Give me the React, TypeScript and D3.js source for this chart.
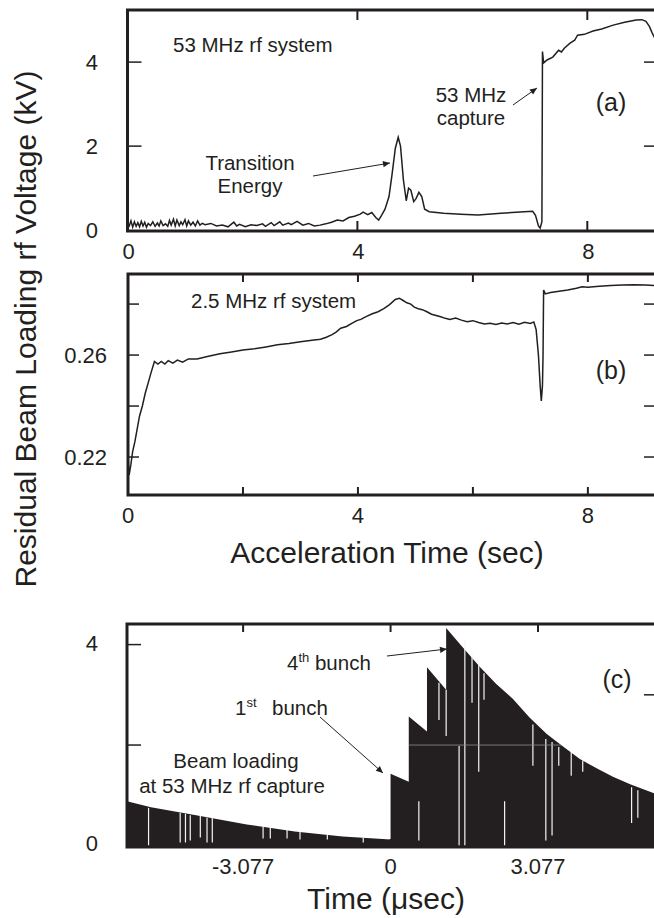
import React, { useEffect, useRef } from "react";
import * as d3 from "d3";

// panel (a) - 53 MHz rf system, voltage in kV vs acceleration time (sec)
const timeA = [0.0, 0.03, 0.06, 0.09, 0.12, 0.15, 0.18, 0.21, 0.24, 0.27, 0.3, 0.33, 0.36, 0.4, 0.44, 0.48, 0.52, 0.55, 0.58, 0.62, 0.66, 0.7, 0.73, 0.76, 0.8, 0.83, 0.86, 0.9, 0.93, 0.96, 1.0, 1.03, 1.06, 1.1, 1.14, 1.18, 1.22, 1.26, 1.3, 1.35, 1.45, 1.55, 1.65, 1.75, 1.85, 1.9, 1.95, 2.05, 2.15, 2.25, 2.35, 2.4, 2.5, 2.55, 2.65, 2.7, 2.8, 2.85, 2.95, 3.05, 3.15, 3.25, 3.35, 3.45, 3.55, 3.65, 3.75, 3.85, 3.95, 4.05, 4.1, 4.18, 4.25, 4.32, 4.37, 4.42, 4.48, 4.55, 4.6, 4.66, 4.71, 4.75, 4.8, 4.85, 4.89, 4.93, 4.98, 5.02, 5.07, 5.12, 5.17, 5.25, 5.5, 5.8, 6.1, 6.5, 6.9, 7.05, 7.1, 7.15, 7.18, 7.21, 7.22, 7.24, 7.3, 7.4, 7.5, 7.55, 7.6, 7.7, 7.78, 7.83, 7.95, 8.1, 8.25, 8.45, 8.65, 8.85, 8.95, 9.02, 9.08, 9.13, 9.2];
const voltA = [0.15, 0.1, 0.22, 0.07, 0.2, 0.09, 0.18, 0.08, 0.21, 0.1, 0.19, 0.07, 0.16, 0.11, 0.2, 0.09, 0.17, 0.1, 0.22, 0.11, 0.15, 0.09, 0.23, 0.12, 0.26, 0.1, 0.24, 0.11, 0.2, 0.13, 0.25, 0.1, 0.22, 0.12, 0.19, 0.1, 0.22, 0.12, 0.16, 0.13, 0.16, 0.1, 0.12, 0.08, 0.19, 0.1, 0.14, 0.08, 0.13, 0.11, 0.15, 0.09, 0.18, 0.11, 0.2, 0.12, 0.17, 0.13, 0.21, 0.12, 0.16, 0.1, 0.12, 0.15, 0.19, 0.24, 0.22, 0.3, 0.33, 0.38, 0.43, 0.37, 0.42, 0.3, 0.24, 0.35, 0.5, 0.8, 1.3, 1.95, 2.21, 2.0, 1.2, 0.7, 1.0, 0.95, 0.68, 0.75, 0.9, 0.8, 0.5, 0.44, 0.4, 0.38, 0.36, 0.4, 0.44, 0.45, 0.35, 0.1, 0.05, 0.2, 4.25, 3.98, 4.05, 4.12, 4.28, 4.24, 4.33, 4.45, 4.52, 4.64, 4.66, 4.74, 4.79, 4.88, 4.95, 5.0, 5.01, 4.97, 4.85, 4.69, 4.5];

// panel (b) - 2.5 MHz rf system
const timeB = [0.0, 0.02, 0.05, 0.08, 0.12, 0.16, 0.2, 0.25, 0.3, 0.35, 0.4, 0.46, 0.52, 0.58, 0.64, 0.7, 0.78, 0.86, 0.95, 1.05, 1.2, 1.4, 1.6, 1.8, 2.0, 2.2, 2.4, 2.6, 2.8, 3.0, 3.2, 3.35, 3.45, 3.55, 3.62, 3.7, 3.8, 3.9, 3.98, 4.05, 4.15, 4.25, 4.35, 4.45, 4.55, 4.65, 4.72, 4.78, 4.85, 4.92, 4.98, 5.05, 5.12, 5.2, 5.28, 5.36, 5.44, 5.52, 5.6, 5.7, 5.8, 5.9, 6.0, 6.1, 6.2, 6.3, 6.4, 6.5, 6.6, 6.7, 6.8, 6.9, 7.0, 7.06, 7.1, 7.14, 7.17, 7.19, 7.21, 7.22, 7.23, 7.26, 7.35, 7.5, 7.65, 7.8, 7.9, 8.0, 8.2, 8.4, 8.6, 8.8, 9.0, 9.2];
const voltB = [0.22, 0.213, 0.217, 0.222, 0.226, 0.231, 0.236, 0.24, 0.245, 0.249, 0.253, 0.2575, 0.2565, 0.2575, 0.2565, 0.2578, 0.2568, 0.258, 0.2572, 0.2585, 0.2585, 0.2595, 0.2605, 0.2612, 0.262, 0.2625, 0.2632, 0.264, 0.2645, 0.2652, 0.2658, 0.2662, 0.267, 0.268, 0.269, 0.2705, 0.2712, 0.2725, 0.2735, 0.274, 0.2752, 0.2762, 0.277, 0.2782, 0.2798, 0.2818, 0.2823, 0.2815, 0.2805, 0.28, 0.2788, 0.2782, 0.2778, 0.277, 0.276, 0.2755, 0.275, 0.2744, 0.274, 0.2745, 0.2737, 0.2731, 0.2735, 0.2728, 0.2722, 0.2725, 0.272, 0.2726, 0.2722, 0.2728, 0.2721, 0.2729, 0.2724, 0.273, 0.27, 0.26, 0.248, 0.242, 0.248, 0.26, 0.2855, 0.284, 0.2845, 0.285, 0.2855, 0.2862, 0.2868, 0.2866, 0.287, 0.2873, 0.2875, 0.2876, 0.2875, 0.2872];

// panel (c) - envelope of beam loading at 53 MHz capture, kV vs usec
const timeC = [-5.5, -5.0, -4.0, -3.0, -2.0, -1.0, -0.5, 0.0, 0.0, 0.38, 0.38, 0.76, 0.76, 1.16, 1.16, 1.5, 1.87, 2.2, 2.55, 2.9, 3.26, 3.6, 3.95, 4.3, 4.64, 5.0, 5.56];
const voltC = [0.88, 0.76, 0.59, 0.42, 0.28, 0.18, 0.15, 0.12, 1.43, 1.27, 2.57, 2.27, 3.55, 3.1, 4.33, 3.95, 3.55, 3.22, 2.92, 2.55, 2.22, 1.97, 1.72, 1.54, 1.37, 1.22, 1.02];
// white dropouts in the trace
const gapTime = [-5.05, -4.39, -4.28, -4.18, -3.97, -3.83, -3.72, -2.66, -2.51, -2.16, -1.89, -1.32, -0.57, 0.59, 1.01, 1.16, 1.43, 1.55, 1.7, 1.84, 1.95, 2.38, 2.97, 3.24, 3.37, 3.51, 3.77, 4.01, 5.03, 5.16];
const gapLow = [0.0, 0.06, 0.06, 0.1, 0.16, 0.06, 0.06, 0.14, 0.14, 0.14, 0.12, 0.12, 0.06, 0.1, 2.5, 2.18, 0.0, 0.0, 2.84, 1.47, 2.9, 0.0, 1.59, 0.1, 0.2, 1.59, 1.39, 1.47, 0.45, 0.55];
const gapHigh = [0.75, 0.65, 0.63, 0.6, 0.59, 0.55, 0.55, 0.39, 0.37, 0.31, 0.27, 0.22, 0.16, 0.88, 3.24, 3.1, 1.98, 4.08, 3.82, 3.63, 3.43, 0.88, 2.41, 2.12, 2.06, 1.96, 1.86, 1.69, 1.16, 1.1];

const accelTicks = [0, 4, 8];
const accelMinor = [2, 4, 6, 8];
const yTicksA = [0, 2, 4];
const yTicksB = [0.22, 0.26];
const yMinorB = [0.22, 0.24, 0.26, 0.28];
const xTicksC = [-3.077, 0, 3.077];
const xLabelsC = ["-3.077", "0", "3.077"];
const yTicksC = [0, 4];

const ink = "#231f20";
const font = "'Liberation Sans', Arial, Helvetica, sans-serif";

export default function App() {
  const ref = useRef<SVGSVGElement>(null);

  useEffect(() => {
    const svg = d3.select(ref.current);
    svg.selectAll("*").remove();
    svg.append("rect").attr("width", 654).attr("height", 918).attr("fill", "#fff");

    const defs = svg.append("defs");
    defs.append("marker")
      .attr("id", "arr")
      .attr("viewBox", "0 0 10 10")
      .attr("refX", 10).attr("refY", 5)
      .attr("markerWidth", 9).attr("markerHeight", 7)
      .attr("markerUnits", "userSpaceOnUse")
      .attr("orient", "auto")
      .append("path").attr("d", "M0,0.5 L10,5 L0,9.5 Z").attr("fill", ink);

    const txt = (x, y, s, size = 20.5, anchor = "start") =>
      svg.append("text").attr("x", x).attr("y", y).attr("font-family", font)
        .attr("font-size", size).attr("fill", ink).attr("text-anchor", anchor).text(s);

    const arrow = (x1, y1, x2, y2) =>
      svg.append("line").attr("x1", x1).attr("y1", y1).attr("x2", x2).attr("y2", y2)
        .attr("stroke", ink).attr("stroke-width", 1).attr("marker-end", "url(#arr)");

    // frame with ticks; right edge falls off the page
    function frame(x, y, yt, yLen, xt, xLen, rt?) {
      const [x0, x1] = x.range();
      const [y0, y1] = y.range(); // y0 bottom
      const g = svg.append("g").attr("stroke", ink);
      yt.forEach(v => {
        g.append("line").attr("x1", x0).attr("x2", x0 + yLen).attr("y1", y(v)).attr("y2", y(v)).attr("stroke-width", 1.5);
      });
      (rt || yt).forEach(v => {
        g.append("line").attr("x1", 654 - 10).attr("x2", x1).attr("y1", y(v)).attr("y2", y(v)).attr("stroke-width", 1.5);
      });
      xt.forEach(v => {
        g.append("line").attr("x1", x(v)).attr("x2", x(v)).attr("y1", y1).attr("y2", y1 + xLen).attr("stroke-width", 2);
        g.append("line").attr("x1", x(v)).attr("x2", x(v)).attr("y1", y0).attr("y2", y0 - xLen).attr("stroke-width", 2);
      });
      g.append("rect").attr("x", x0).attr("y", y1).attr("width", x1 - x0).attr("height", y0 - y1)
        .attr("fill", "none").attr("stroke-width", 3);
    }

    // ---- (a)
    const xA = d3.scaleLinear().domain([0, 9.23]).range([127.5, 658]);
    const yA = d3.scaleLinear().domain([-0.02, 5.24]).range([231, 10]);
    svg.append("path")
      .attr("d", d3.line<number>().x((d, i) => xA(timeA[i])).y(d => yA(d))(voltA))
      .attr("fill", "none").attr("stroke", ink).attr("stroke-width", 1.5);
    frame(xA, yA, [2, 4], 14, [4, 8], 10);
    yTicksA.forEach(v => txt(98, yA(v) + 8, String(v), 22, "end"));
    accelTicks.forEach(v => txt(xA(v) + 1, 259, String(v), 22, "middle"));

    txt(173, 52, "53 MHz rf system");
    txt(250, 170, "Transition", 20.5, "middle");
    txt(250, 193, "Energy", 20.5, "middle");
    arrow(313, 176, 390, 163);
    txt(471, 102, "53 MHz", 20.5, "middle");
    txt(471, 125, "capture", 20.5, "middle");
    arrow(513, 105, 537, 88);
    txt(611, 111, "(a)", 25, "middle");

    // ---- (b)
    const xB = d3.scaleLinear().domain([0, 9.22]).range([128, 658]);
    const yB = d3.scaleLinear().domain([0.2051, 0.2918]).range([495, 274]);
    svg.append("path")
      .attr("d", d3.line<number>().x((d, i) => xB(timeB[i])).y(d => yB(d))(voltB))
      .attr("fill", "none").attr("stroke", ink).attr("stroke-width", 1.5);
    frame(xB, yB, yMinorB, 11, accelMinor, 8);
    yTicksB.forEach(v => txt(107, yB(v) + 8, v.toFixed(2), 22, "end"));
    accelTicks.forEach(v => txt(xB(v), 523, String(v), 22, "middle"));
    txt(191, 308, "2.5 MHz rf system");
    txt(611, 379, "(b)", 25, "middle");

    txt(387, 563, "Acceleration Time (sec)", 30, "middle");

    // ---- (c)
    const xC = d3.scaleLinear().domain([-5.5, 5.56]).range([127, 657]);
    const yC = d3.scaleLinear().domain([-0.03, 4.41]).range([847, 624]);
    const areaC = d3.area<number>().x((d, i) => xC(timeC[i])).y0(yC(-0.03)).y1(d => yC(d));
    defs.append("clipPath").attr("id", "envC").append("path").attr("d", areaC(voltC));
    svg.append("path").attr("d", areaC(voltC)).attr("fill", ink);
    svg.append("g").selectAll("line").data(gapTime).join("line")
      .attr("x1", d => xC(d)).attr("x2", d => xC(d))
      .attr("y1", (d, i) => yC(gapLow[i])).attr("y2", (d, i) => yC(gapHigh[i]))
      .attr("stroke", "#f4f4f4").attr("stroke-width", 1.2);
    svg.append("line").attr("x1", xC(0.38)).attr("x2", xC(3.6)).attr("y1", yC(2)).attr("y2", yC(2))
      .attr("stroke", "#8c8c8c").attr("stroke-width", 0.8).attr("clip-path", "url(#envC)");
    frame(xC, yC, [2, 4], 14, xTicksC, 8, [3]);
    yTicksC.forEach(v => txt(98, yC(v) + 6, String(v), 22, "end"));
    xTicksC.forEach((v, i) => txt(xC(v), 874, xLabelsC[i], 22, "middle"));

    const t4 = txt(287, 670, "4");
    t4.append("tspan").attr("font-size", 13).attr("dy", -8).text("th");
    t4.append("tspan").attr("dy", 8).text(" bunch");
    arrow(387, 656, 447, 649);
    const t1 = txt(235, 715, "1");
    t1.append("tspan").attr("font-size", 13).attr("dy", -8).text("st");
    t1.append("tspan").attr("dy", 8).attr("x", 272).text("bunch");
    arrow(320, 717, 383, 773);
    txt(236, 768, "Beam loading", 20.5, "middle");
    txt(232, 793, "at 53 MHz rf capture", 20.5, "middle");
    txt(617, 688, "(c)", 25, "middle");

    txt(386, 909, "Time (\u03bcsec)", 30, "middle");

    svg.append("text")
      .attr("transform", "translate(36,329) rotate(-90)")
      .attr("font-family", font).attr("font-size", 30).attr("fill", ink)
      .attr("text-anchor", "middle")
      .text("Residual Beam Loading rf Voltage (kV)");
  }, []);

  return (
    <svg ref={ref} width={654} height={918}
      style={{ position: "absolute", left: 0, top: 0, display: "block" }} />
  );
}
